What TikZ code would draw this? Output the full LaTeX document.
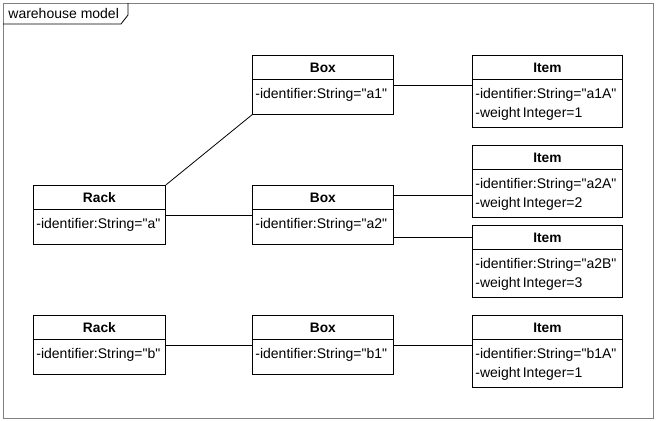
\documentclass[tikz,border=0pt]{standalone}
\usepackage{fontspec}
\setmainfont{Liberation Sans}[Ligatures=TeXOff]
\tikzset{
	objbox/.style={draw,anchor=north west,inner sep=0pt},
	objtitle/.style={font=\fontsize{10.3}{12}\selectfont\bfseries},
	objbody/.style={anchor=north west,inner sep=0pt,align=left,font=\fontsize{10.5}{14.5}\selectfont}
}
\begin{document}
\begin{tikzpicture}[x=0.75pt,y=-0.75pt,line width=0.6pt,font=\fontsize{10.5}{12}\selectfont]
	\useasboundingbox (0,0) rectangle (657,421);
	\draw[gray] (3,3) rectangle (653,418);
	\draw (3,24) -- (121,24) -- (128,15) -- (128,3);
	\node[anchor=west,inner sep=0pt] (title) at (8,13) {warehouse model};
	\foreach \n/\x/\y/\w/\h/\t/\b in {
		racka/33/185/132/59/Rack/{-identifier:String="a"},
		rackb/33/315/132/59/Rack/{-identifier:String="b"},
		boxa1/252/55/141/59/Box/{-identifier:String="a1"},
		boxa2/252/185/141/59/Box/{-identifier:String="a2"},
		boxb1/252/315/141/59/Box/{-identifier:String="b1"},
		itema1A/472/55/150/72/Item/{-identifier:String="a1A"\\-weight\,Integer=1},
		itema2A/472/145/150/72/Item/{-identifier:String="a2A"\\-weight\,Integer=2},
		itema2B/472/225/150/72/Item/{-identifier:String="a2B"\\-weight\,Integer=3},
		itemb1A/472/315/150/72/Item/{-identifier:String="b1A"\\-weight\,Integer=1}}
	{
	\node[objbox,minimum width=\w*0.75pt,minimum height=\h*0.75pt] (\n) at (\x,\y) {};
	\draw (\n.north west) ++(0,24) -- ++(\w,0);
	\node[objtitle] at ([yshift=-13*0.75pt]\n.north) {\t};
	\node[objbody] at ([shift={(3,33)}]\n.north west) {\b};
	}
	% links
	\draw (racka.north east) -- (boxa1.south west);
	\draw (racka) -- (boxa2);
	\draw (boxa1.east) -- (boxa1.east -| itema1A.west);
	\draw ([yshift=-7.5pt]boxa2.north east) -- ([yshift=-7.5pt]boxa2.north east -| itema2A.west);
	\draw ([yshift=5.25pt]boxa2.south east) -- ([yshift=5.25pt]boxa2.south east -| itema2B.west);
	\draw (rackb) -- (boxb1);
	\draw (boxb1.east) -- (boxb1.east -| itemb1A.west);
\end{tikzpicture}
\end{document}
